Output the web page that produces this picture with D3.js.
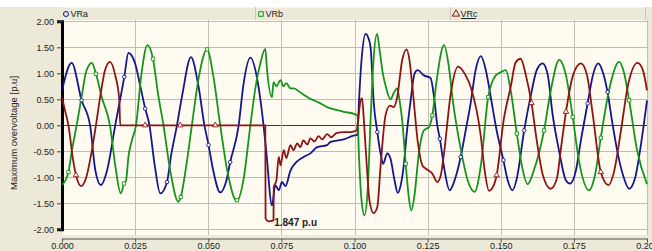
<!DOCTYPE html>
<html>
<head>
<meta charset="utf-8">
<script src="https://cdn.jsdelivr.net/npm/d3@7"></script>
<style>
  body { margin: 0; background: #ece9d8; }
  svg { display: block; }
</style>
</head>
<body>
<div id="chart"></div>
<script>
// [time (s), voltage (p.u)]
const vraPoints = [
  [0, 0.67], [0.0033, 1.20], [0.0067, 0.48], [0.0096, 0], [0.0114, -0.87], [0.0133, -1.15],
  [0.0154, -0.87], [0.0182, 0], [0.0213, 0.93], [0.0227, 1.39], [0.0250, 1.19], [0.0267, 0.77],
  [0.0284, 0.33], [0.0299, 0], [0.0317, -0.77], [0.0336, -1.31], [0.0359, -1.09], [0.0373, -0.58],
  [0.0393, 0], [0.0411, 0.58], [0.0441, 1.31], [0.0466, 0.77], [0.0487, 0], [0.0501, -0.38],
  [0.0517, -0.87], [0.0541, -1.29], [0.0562, -1.06], [0.0575, -0.71], [0.0604, 0], [0.0620, 0.77],
  [0.0644, 1.30], [0.0668, 0.87], [0.0689, 0], [0.0698, -0.48], [0.0718, -1.54], [0.0729, -1.15],
  [0.0741, -1.25], [0.0752, -1.09], [0.0764, -1.17], [0.0781, -0.87], [0.0801, -0.71], [0.0826, -0.61],
  [0.0849, -0.54], [0.0872, -0.42], [0.0906, -0.38], [0.0918, -0.32], [0.0963, -0.27], [0.1007, -0.19],
  [0.1010, -0.19], [0.1015, 0.42], [0.1024, 1.25], [0.1038, 1.76], [0.1048, 1.67], [0.1055, 1.50],
  [0.1066, 0.42], [0.1078, -0.13], [0.1089, -0.54], [0.1098, -0.74], [0.1112, -0.54], [0.1123, -0.64],
  [0.1137, -1.06], [0.1148, -1.30], [0.1158, -1.15], [0.1169, -0.74], [0.1178, -0.19], [0.1192, 0.48],
  [0.1205, 0.99], [0.1216, 1.06], [0.1237, 0.96], [0.1260, 0.91], [0.1272, 0.54], [0.1283, 0],
  [0.1292, -0.26], [0.1308, -0.87], [0.1325, -1.25], [0.1342, -1.06], [0.1363, -0.61], [0.1380, -0.10],
  [0.1397, 0.42], [0.1414, 1.06], [0.1432, 1.33], [0.1449, 1.06], [0.1466, 0.54], [0.1486, -0.10],
  [0.1509, -0.67], [0.1524, -1.06], [0.1540, -1.25], [0.1555, -1.02], [0.1580, -0.10], [0.1603, 0.58],
  [0.1623, 1.06], [0.1643, 1.19], [0.1661, 0.96], [0.1677, 0.22], [0.1699, -0.48], [0.1723, -1.06],
  [0.1737, -1.12], [0.1757, -0.87], [0.1774, -0.29], [0.1797, 0.42], [0.1815, 0.96], [0.1833, 1.19],
  [0.1849, 1.02], [0.1865, 0.64], [0.1880, 0.10], [0.1900, -0.54], [0.1918, -0.96], [0.1939, -1.22],
  [0.1959, -1.02], [0.1979, -0.38], [0.2000, 0.48]
];

const vrbPoints = [
  [0, -1.15], [0.0022, -0.90], [0.0034, -0.48], [0.0050, 0], [0.0068, 0.58], [0.0082, 1.02],
  [0.0102, 1.20], [0.0116, 0.99], [0.0137, 0.52], [0.0164, 0], [0.0182, -0.77], [0.0201, -1.31],
  [0.0212, -1.12], [0.0219, -1.06], [0.0227, -0.61], [0.0239, -0.29], [0.0253, 0], [0.0271, 0.96],
  [0.0292, 1.54], [0.0311, 1.28], [0.0329, 0.58], [0.0347, 0], [0.0370, -0.87], [0.0398, -1.47],
  [0.0406, -1.38], [0.0425, -0.77], [0.0444, 0], [0.0466, 0.87], [0.0496, 1.46], [0.0517, 0.96],
  [0.0541, 0], [0.0565, -0.87], [0.0598, -1.46], [0.0620, -1.06], [0.0644, 0], [0.0661, 0.71],
  [0.0678, 1.19], [0.0695, 1.47], [0.0701, 1.06], [0.0718, 0.54], [0.0723, 0.83], [0.0733, 0.75],
  [0.0747, 0.87], [0.0757, 0.75], [0.0767, 0.81], [0.0781, 0.71], [0.0793, 0.71], [0.0815, 0.63],
  [0.0849, 0.51], [0.0877, 0.44], [0.0906, 0.35], [0.0941, 0.29], [0.0963, 0.26], [0.1003, 0.21],
  [0.1010, 0.19], [0.1015, -0.54], [0.1024, -1.44], [0.1034, -1.73], [0.1045, -1.25], [0.1055, 0.10],
  [0.1065, 1.25], [0.1077, 1.76], [0.1086, 1.44], [0.1098, 0.96], [0.1106, 0.77], [0.1123, 0.50],
  [0.1134, 0.62], [0.1146, 0.71], [0.1154, 0.48], [0.1163, 0.10], [0.1175, -0.74], [0.1185, -1.35],
  [0.1194, -1.64], [0.1205, -1.35], [0.1220, -0.54], [0.1237, -0.10], [0.1255, -0.03], [0.1266, 0.19],
  [0.1281, 0.87], [0.1306, 1.54], [0.1322, 1.15], [0.1336, 0.48], [0.1363, -0.45], [0.1387, -1.06],
  [0.1411, -1.28], [0.1432, -0.77], [0.1457, 0.54], [0.1483, 0.96], [0.1500, 1.02], [0.1517, 1.06],
  [0.1534, 0.67], [0.1555, -0.16], [0.1572, -0.77], [0.1592, -1.13], [0.1613, -0.87], [0.1648, -0.10],
  [0.1671, 0.67], [0.1700, 1.26], [0.1723, 0.96], [0.1746, 0.16], [0.1767, -0.67], [0.1802, -1.25],
  [0.1822, -0.96], [0.1842, -0.24], [0.1870, 0.67], [0.1905, 1.22], [0.1921, 1.02], [0.1939, 0.48],
  [0.1966, -0.48], [0.2000, -1.13]
];

const vrcPoints = [
  [0, 0.54], [0.0010, 0.29], [0.0022, 0], [0.0038, -0.67], [0.0048, -0.96], [0.0065, -1.17],
  [0.0082, -1.02], [0.0099, -0.58], [0.0116, 0], [0.0134, 0.67], [0.0147, 1.06], [0.0164, 1.22],
  [0.0182, 0.96], [0.0196, 0.48], [0.0199, 0], [0.0695, 0], [0.0696, -1.79], [0.0705, -1.847],
  [0.0723, -1.83], [0.0724, -1.19], [0.0733, -1.06], [0.0741, -0.61], [0.0747, -0.77], [0.0758, -0.48],
  [0.0767, -0.63], [0.0781, -0.38], [0.0791, -0.48], [0.0804, -0.35], [0.0815, -0.42], [0.0825, -0.29],
  [0.0839, -0.37], [0.0849, -0.25], [0.0863, -0.31], [0.0877, -0.21], [0.0890, -0.27], [0.0906, -0.17],
  [0.0921, -0.23], [0.0938, -0.15], [0.0963, -0.13], [0.0986, -0.13], [0.1007, -0.10], [0.1014, 0.19],
  [0.1021, 0.48], [0.1026, 0.52], [0.1032, 0.10], [0.1043, -0.87], [0.1051, -1.44], [0.1065, -1.69],
  [0.1078, -1.57], [0.1089, -0.80], [0.1106, 0.19], [0.1121, 0.38], [0.1134, 0.35], [0.1146, 0.54],
  [0.1163, 1.25], [0.1178, 1.46], [0.1188, 1.25], [0.1198, 0.74], [0.1217, -0.35], [0.1232, -0.77],
  [0.1243, -0.83], [0.1266, -0.93], [0.1283, -1.09], [0.1295, -0.96], [0.1306, -0.54], [0.1329, 0.61],
  [0.1354, 1.13], [0.1380, 0.96], [0.1397, 0.74], [0.1432, -0.22], [0.1445, -0.87], [0.1460, -1.26],
  [0.1473, -1.19], [0.1486, -0.96], [0.1510, 0.10], [0.1534, 0.74], [0.1551, 1.21], [0.1568, 1.28],
  [0.1586, 0.96], [0.1605, 0.43], [0.1623, -0.29], [0.1644, -0.96], [0.1671, -1.22], [0.1692, -1.02],
  [0.1705, -0.48], [0.1723, 0.26], [0.1747, 0.96], [0.1774, 1.19], [0.1795, 0.96], [0.1815, 0.19],
  [0.1842, -0.90], [0.1868, -1.15], [0.1887, -0.90], [0.1911, -0.10], [0.1935, 0.77], [0.1968, 1.20],
  [0.1986, 1.06], [0.2000, 0.67]
];

// sparse symbols drawn on the traces
const vraMarks = [[0.0067, 0.48], [0.0213, 0.93], [0.0284, 0.32], [0.0359, -1.09], [0.0501, -0.38],
  [0.0575, -0.71], [0.1078, -0.13], [0.1292, -0.26], [0.1363, -0.61], [0.1509, -0.67], [0.1580, -0.10],
  [0.1797, 0.42], [0.1865, 0.64]];
const vrbMarks = [[0.0022, -0.90], [0.0116, 0.99], [0.0212, -1.12], [0.0311, 1.28], [0.0406, -1.38],
  [0.0496, 1.46], [0.0598, -1.44], [0.1175, -0.74], [0.1266, 0.19], [0.1457, 0.54], [0.1555, -0.16],
  [0.1648, -0.10], [0.1746, 0.16], [0.1842, -0.24], [0.1939, 0.48]];
const vrcMarks = [[0.0048, -0.96], [0.0284, 0], [0.0404, 0], [0.0524, 0], [0.1486, -0.96],
  [0.1605, 0.43], [0.1723, 0.26], [0.1842, -0.90]];

const seriesNames = ["VRa", "VRb", "VRc"];
const xTicks = [0, 0.025, 0.05, 0.075, 0.1, 0.125, 0.15, 0.175, 0.2];
const yTicks = [-2, -1.5, -1, -0.5, 0, 0.5, 1, 1.5, 2];
const peakLabel = { t: 0.0705, v: -1.847, text: "1.847 p.u" };

const width = 652, height = 251;
const font = "'Liberation Sans', Arial, sans-serif";

const svg = d3.select("#chart")
    .append("svg")
    .attr("width", width)
    .attr("height", height)
    .style("font-family", font);

const x = d3.scaleLinear().domain([0, 0.2]).range([62, 647]);
const y = d3.scaleLinear().domain([-2, 2]).range([229.3, 21.3]);

// backgrounds
svg.append("rect").attr("width", width).attr("height", height).attr("fill", "#ece9d8");
svg.append("rect").attr("width", width).attr("height", 7).attr("fill", "#ffffff");
svg.append("rect")
    .attr("x", 62).attr("y", 20)
    .attr("width", 586).attr("height", 215)
    .attr("fill", "#fffbf0");

// legend bar
svg.append("line").attr("x1", 62).attr("x2", 646).attr("y1", 7.5).attr("y2", 7.5).attr("stroke", "#f6f4ec");
[255.5, 450.5, 645.5].forEach(px => {
    svg.append("line").attr("x1", px).attr("x2", px).attr("y1", 7).attr("y2", 20).attr("stroke", "#c9c6b6");
});

// grid
svg.append("g")
    .selectAll("line")
    .data(yTicks)
    .enter()
    .append("line")
    .attr("x1", 62).attr("x2", 647)
    .attr("y1", d => Math.round(y(d)) + 0.5).attr("y2", d => Math.round(y(d)) + 0.5)
    .attr("stroke", d => d === 0 ? "#3c3c3c" : "#c0bdb4")
    .attr("stroke-width", 1);

svg.append("g")
    .selectAll("line")
    .data(xTicks.slice(1))
    .enter()
    .append("line")
    .attr("x1", d => Math.round(x(d)) + 0.5).attr("x2", d => Math.round(x(d)) + 0.5)
    .attr("y1", 20).attr("y2", 235)
    .attr("stroke", "#c0bdb4");

// y axis
const yAxis = svg.append("g")
    .attr("transform", "translate(62,0)")
    .call(d3.axisLeft(y).tickValues(yTicks).tickSize(5).tickFormat(d => d.toFixed(2)));
yAxis.select(".domain").attr("stroke", "#000").attr("stroke-width", 3);
yAxis.selectAll(".tick line").attr("stroke", "#444");
yAxis.selectAll(".tick text")
    .attr("x", -8)
    .style("font-family", font)
    .style("font-size", "9px")
    .attr("fill", "#222");

svg.append("text")
    .attr("transform", "translate(17,133) rotate(-90)")
    .attr("text-anchor", "middle")
    .style("font-size", "9.5px")
    .attr("fill", "#222")
    .text("Maximum overvoltage [p.u]");

// x axis
const xAxis = svg.append("g")
    .attr("transform", "translate(0,238.5)")
    .call(d3.axisBottom(x).tickValues(xTicks).tickSize(4).tickSizeOuter(0).tickFormat(d => d.toFixed(3)));
xAxis.select(".domain").attr("stroke", "#555");
xAxis.selectAll(".tick line").attr("stroke", "#555");
xAxis.selectAll(".tick text")
    .attr("y", 4)
    .style("font-family", font)
    .style("font-size", "9px")
    .attr("fill", "#222");

// traces
svg.append("clipPath").attr("id", "plot-clip")
    .append("rect").attr("x", 62).attr("y", 20).attr("width", 586).attr("height", 215);

const line = d3.line()
    .x(d => x(d[0]))
    .y(d => y(d[1]))
    .curve(d3.curveMonotoneX);

const series = [
    { name: seriesNames[0], points: vraPoints, marks: vraMarks, color: "#12168f", symbol: d3.symbolCircle, size: 10 },
    { name: seriesNames[1], points: vrbPoints, marks: vrbMarks, color: "#14951c", symbol: d3.symbolSquare, size: 11 },
    { name: seriesNames[2], points: vrcPoints, marks: vrcMarks, color: "#8e1414", symbol: d3.symbolTriangle, size: 13 }
];

const plot = svg.append("g").attr("clip-path", "url(#plot-clip)");

series.forEach(s => {
    plot.append("path")
        .datum(s.points)
        .attr("d", line)
        .attr("fill", "none")
        .attr("stroke", s.color)
        .attr("stroke-width", 1.8)
        .attr("stroke-linejoin", "round");
});

series.forEach(s => {
    plot.selectAll(null)
        .data(s.marks)
        .enter()
        .append("path")
        .attr("d", d3.symbol().type(s.symbol).size(s.size))
        .attr("transform", d => `translate(${x(d[0])},${y(d[1])})`)
        .attr("fill", "#fffbf0")
        .attr("stroke", s.color)
        .attr("stroke-width", 0.9);
});

// legend
const legendX = [66, 261, 456];
series.forEach((s, i) => {
    svg.append("path")
        .attr("d", d3.symbol().type(s.symbol).size(s.size + 10))
        .attr("transform", `translate(${legendX[i]},14)`)
        .attr("fill", "none")
        .attr("stroke", s.color)
        .attr("stroke-width", 1);
    svg.append("text")
        .attr("x", legendX[i] + 4.5)
        .attr("y", 17.3)
        .style("font-size", "9px")
        .attr("fill", "#222")
        .text(s.name);
});
svg.append("line")
    .attr("x1", 461).attr("x2", 476)
    .attr("y1", 18.5).attr("y2", 18.5)
    .attr("stroke", "#222");

// peak annotation
svg.append("text")
    .attr("x", x(peakLabel.t) + 6)
    .attr("y", y(peakLabel.v) + 5)
    .style("font-size", "10px")
    .style("font-weight", "bold")
    .attr("fill", "#222")
    .text(peakLabel.text);
</script>
</body>
</html>
